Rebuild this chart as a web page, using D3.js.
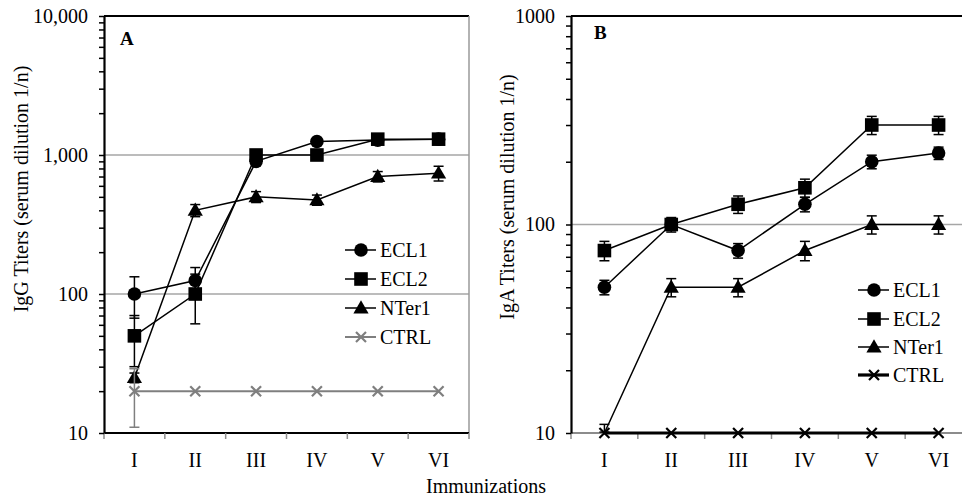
<!DOCTYPE html>
<html>
<head>
<meta charset="utf-8">
<script src="https://cdn.jsdelivr.net/npm/d3@7"></script>
<style>
body { margin: 0; background: #fff; }
text { font-family: "Liberation Serif", "Times New Roman", serif; }
</style>
</head>
<body>
<script>
// categories and series
const immunizations = ['I', 'II', 'III', 'IV', 'V', 'VI'];
const seriesNames = ['ECL1', 'ECL2', 'NTer1', 'CTRL'];

// panel A: IgG titers
const iggECL1 = [100, 125, 900, 1250, 1280, 1300];
const iggECL2 = [50, 100, 1000, 1000, 1300, 1300];
const iggNTer1 = [25, 400, 500, 475, 700, 740];
const iggCTRL = [20, 20, 20, 20, 20, 20];
const iggErrECL1 = [33, 30, 60, 60, 60, 60];
const iggErrECL2 = [20, 39, 60, 60, 60, 60];
const iggErrNTer1 = [2, 40, 45, 40, 60, 90];
const iggErrCTRL = [9, 0, 0, 0, 0, 0];
const iggTicks = [10, 100, 1000, 10000];

// panel B: IgA titers
const igaECL1 = [50, 100, 75, 125, 200, 220];
const igaECL2 = [75, 100, 125, 150, 300, 300];
const igaNTer1 = [10, 50, 50, 75, 100, 100];
const igaCTRL = [10, 10, 10, 10, 10, 10];
const igaErrECL1 = [4, 6, 6, 10, 15, 15];
const igaErrECL2 = [8, 8, 12, 15, 30, 30];
const igaErrNTer1 = [1, 5, 5, 8, 10, 10];
const igaErrCTRL = [0, 0, 0, 0, 0, 0];
const igaTicks = [10, 100, 1000];

const serif = '"Liberation Serif", "Times New Roman", serif';

const outerWidth = 962;
const outerHeight = 498;

const svg = d3.select('body')
  .append('svg')
  .attr('width', outerWidth)
  .attr('height', outerHeight)
  .style('display', 'block');

svg.append('rect').attr('width', outerWidth).attr('height', outerHeight).attr('fill', '#fff');

const panels = [
  {
    tag: 'A', left: 104, right: 469, top: 16, bottom: 433,
    ticks: iggTicks, fmt: d3.format(','),
    title: 'IgG Titers (serum dilution 1/n)', titleX: 21, titleY: 189,
    tagX: 120, tagY: 45, rightBorder: true, xAxisColor: '#000',
    values: [iggECL1, iggECL2, iggNTer1, iggCTRL],
    errors: [iggErrECL1, iggErrECL2, iggErrNTer1, iggErrCTRL],
    ctrlColor: '#7f7f7f', ctrlWidth: 2,
    legendX: 345, legendY: [250, 279, 308, 337]
  },
  {
    tag: 'B', left: 571, right: 972, top: 16, bottom: 433,
    ticks: igaTicks, fmt: d3.format('d'),
    title: 'IgA Titers (serum dilution 1/n)', titleX: 507, titleY: 197,
    tagX: 594, tagY: 39, rightBorder: false, xAxisColor: '#8c8c8c',
    values: [igaECL1, igaECL2, igaNTer1, igaCTRL],
    errors: [igaErrECL1, igaErrECL2, igaErrNTer1, igaErrCTRL],
    ctrlColor: '#000', ctrlWidth: 3.2,
    legendX: 858, legendY: [290, 319, 347, 375]
  }
];

function drawMarker(g, kind, cx, cy, color) {
  if (kind === 'ECL1') {
    g.append('circle').attr('cx', cx).attr('cy', cy).attr('r', 6.8).attr('fill', '#000');
  } else if (kind === 'ECL2') {
    g.append('rect').attr('x', cx - 6.8).attr('y', cy - 6.8).attr('width', 13.6).attr('height', 13.6).attr('fill', '#000');
  } else if (kind === 'NTer1') {
    g.append('path').attr('d', d3.symbol(d3.symbolTriangle, 100)())
      .attr('transform', `translate(${cx},${cy + 1})`).attr('fill', '#000');
  } else {
    g.append('path').attr('d', `M${cx - 5},${cy - 5}L${cx + 5},${cy + 5}M${cx - 5},${cy + 5}L${cx + 5},${cy - 5}`)
      .attr('stroke', color).attr('stroke-width', 2.2).attr('fill', 'none');
  }
}

panels.forEach(p => {
  const g = svg.append('g');

  const xScale = d3.scaleBand()
    .domain(immunizations)
    .range([p.left, p.right]);
  const xc = c => xScale(c) + xScale.bandwidth() / 2;

  const yScale = d3.scaleLog()
    .domain([p.ticks[0], p.ticks[p.ticks.length - 1]])
    .range([p.bottom, p.top]);

  // gridlines at each decade
  g.selectAll('.grid')
    .data(p.ticks.slice(1, -1))
    .enter()
    .append('line')
    .attr('x1', p.left).attr('x2', p.right)
    .attr('y1', d => yScale(d)).attr('y2', d => yScale(d))
    .attr('stroke', '#a6a6a6').attr('stroke-width', 1.5);

  // plot area border
  g.append('line').attr('x1', p.left).attr('x2', p.right).attr('y1', p.top).attr('y2', p.top)
    .attr('stroke', '#000').attr('stroke-width', 2);
  if (p.rightBorder) {
    g.append('line').attr('x1', p.right).attr('x2', p.right).attr('y1', p.top).attr('y2', p.bottom)
      .attr('stroke', '#9a9a9a').attr('stroke-width', 1.5);
  }

  // x axis line, boundary ticks, labels
  g.append('line').attr('x1', p.left).attr('x2', p.right).attr('y1', p.bottom).attr('y2', p.bottom)
    .attr('stroke', p.xAxisColor).attr('stroke-width', 2);
  g.selectAll('.xtick')
    .data(immunizations.map(c => xScale(c)).concat([p.right]))
    .enter()
    .append('line')
    .attr('x1', d => d).attr('x2', d => d)
    .attr('y1', p.bottom).attr('y2', p.bottom + 6)
    .attr('stroke', '#8c8c8c').attr('stroke-width', 1.5);

  const xAxis = d3.axisBottom(xScale).tickSize(0).tickPadding(20);
  const xa = g.append('g')
    .attr('transform', `translate(0,${p.bottom})`)
    .call(xAxis)
    .attr('font-family', serif);
  xa.select('.domain').remove();
  xa.selectAll('text')
    .attr('font-size', 20)
    .attr('font-family', serif)
    .attr('fill', '#000');

  // y axis with log minor ticks
  const minor = yScale.ticks();
  const yAxis = d3.axisLeft(yScale)
    .tickValues(minor)
    .tickSize(5)
    .tickSizeOuter(0)
    .tickPadding(11)
    .tickFormat(d => p.ticks.includes(d) ? p.fmt(d) : '');
  const ya = g.append('g')
    .attr('transform', `translate(${p.left},0)`)
    .call(yAxis)
    .attr('font-family', serif);
  ya.select('.domain').attr('stroke-width', 2.2);
  ya.selectAll('line').attr('stroke-width', 1.5);
  ya.selectAll('text')
    .attr('font-size', 20)
    .attr('font-family', serif)
    .attr('fill', '#000');

  // y title
  g.append('text')
    .attr('transform', `translate(${p.titleX},${p.titleY}) rotate(-90)`)
    .attr('text-anchor', 'middle')
    .attr('dy', '0.35em')
    .attr('font-size', 20)
    .attr('font-family', serif)
    .text(p.title);

  // panel tag
  g.append('text')
    .attr('x', p.tagX).attr('y', p.tagY)
    .attr('font-size', 19).attr('font-weight', 'bold')
    .attr('font-family', serif)
    .text(p.tag);

  // series
  seriesNames.forEach((name, si) => {
    const vals = p.values[si];
    const errs = p.errors[si];
    const isCtrl = name === 'CTRL';
    const color = isCtrl ? p.ctrlColor : '#000';

    const line = d3.line()
      .x((d, i) => xc(immunizations[i]))
      .y(d => yScale(d));
    g.append('path')
      .datum(vals)
      .attr('d', line)
      .attr('fill', 'none')
      .attr('stroke', color)
      .attr('stroke-width', isCtrl ? p.ctrlWidth : 1.5);

    vals.forEach((v, i) => {
      const e = errs[i];
      if (e > 0) {
        const x = xc(immunizations[i]);
        const y1 = yScale(Math.max(v - e, p.ticks[0] * 1.01));
        const y2 = yScale(v + e);
        const ec = isCtrl ? '#7f7f7f' : '#000';
        g.append('line').attr('x1', x).attr('x2', x).attr('y1', y1).attr('y2', y2)
          .attr('stroke', ec).attr('stroke-width', 1.5);
        [y1, y2].forEach(yy => {
          g.append('line').attr('x1', x - 5).attr('x2', x + 5).attr('y1', yy).attr('y2', yy)
            .attr('stroke', ec).attr('stroke-width', 1.5);
        });
      }
    });

    // markers sitting on the axis floor are hidden, except the control crosses
    vals.forEach((v, i) => {
      if (!isCtrl && v <= p.ticks[0]) return;
      drawMarker(g, name, xc(immunizations[i]), yScale(v), color);
    });
  });

  // legend
  seriesNames.forEach((name, si) => {
    const isCtrl = name === 'CTRL';
    const color = isCtrl ? p.ctrlColor : '#000';
    const ly = p.legendY[si];
    g.append('line')
      .attr('x1', p.legendX).attr('x2', p.legendX + 31)
      .attr('y1', ly).attr('y2', ly)
      .attr('stroke', isCtrl && p.tag === 'A' ? '#7f7f7f' : '#000')
      .attr('stroke-width', isCtrl ? p.ctrlWidth : 1.5);
    drawMarker(g, name, p.legendX + 16, ly, color);
    g.append('text')
      .attr('x', p.legendX + 35).attr('y', ly)
      .attr('dy', '0.35em')
      .attr('font-size', 20)
      .attr('font-family', serif)
      .text(name);
  });
});

// shared x title
svg.append('text')
  .attr('x', 486).attr('y', 493)
  .attr('text-anchor', 'middle')
  .attr('font-size', 20)
  .attr('font-family', serif)
  .text('Immunizations');
</script>
</body>
</html>
